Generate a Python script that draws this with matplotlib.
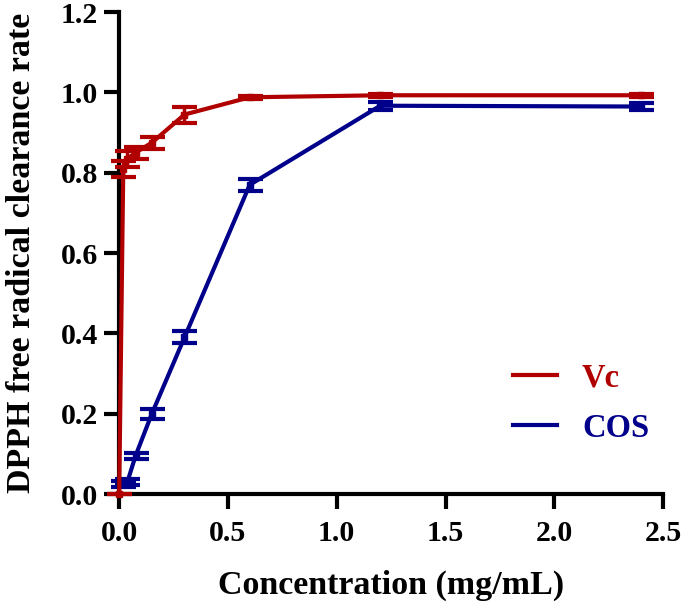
import numpy as np
import matplotlib.pyplot as plt
from matplotlib.lines import Line2D

# concentracao (mg/mL)
conc = [0, 0.01875, 0.0375, 0.075, 0.15, 0.3, 0.6, 1.2, 2.4]
conc_cos = [0.01875, 0.0375, 0.075, 0.15, 0.3, 0.6, 1.2, 2.4]

# taxa de remocao DPPH
vc = [0.0, 0.81, 0.835, 0.85, 0.875, 0.945, 0.988, 0.993, 0.993]
vc_err = [0.0, 0.02, 0.02, 0.015, 0.015, 0.02, 0.004, 0.004, 0.004]
cos = [0.025, 0.03, 0.095, 0.2, 0.39, 0.77, 0.967, 0.965]
cos_err = [0.008, 0.008, 0.008, 0.012, 0.015, 0.015, 0.01, 0.008]

red = '#B00000'
blue = '#00008B'

plt.rcParams['font.family'] = ['Liberation Serif', 'DejaVu Serif']
plt.rcParams['font.weight'] = 'bold'

fig = plt.figure(figsize=(6.85, 6.07), dpi=100)
ax = fig.add_axes([0.174, 0.186, 0.794, 0.794])

ax.errorbar(conc, vc, yerr=vc_err, color=red, lw=3, marker='s', ms=4,
            capsize=9, capthick=3, elinewidth=2.5, clip_on=False, zorder=3)
ax.errorbar(conc_cos, cos, yerr=cos_err, color=blue, lw=3, marker='s', ms=4,
            capsize=9, capthick=3, elinewidth=2.5, clip_on=False, zorder=2)

ax.set_xlim(0, 2.5)
ax.set_ylim(0, 1.2)
ax.set_xticks(np.arange(0, 2.51, 0.5))
ax.set_yticks(np.arange(0, 1.21, 0.2))
ax.xaxis.set_major_formatter(plt.FormatStrFormatter('%.1f'))
ax.yaxis.set_major_formatter(plt.FormatStrFormatter('%.1f'))

for s in ['top', 'right']:
    ax.spines[s].set_visible(False)
for s in ['left', 'bottom']:
    ax.spines[s].set_linewidth(3)
ax.tick_params(width=3, length=11, labelsize=21.5)
ax.tick_params(axis='x', pad=8)
ax.tick_params(axis='y', pad=4)
for t in ax.get_xticklabels() + ax.get_yticklabels():
    t.set_fontweight('bold')

ax.set_xlabel('Concentration (mg/mL)', fontsize=24.5, fontweight='bold', labelpad=16)
ax.set_ylabel('DPPH free radical clearance rate', fontsize=24.5, fontweight='bold', labelpad=17)

handles = [Line2D([], [], color=red, lw=3), Line2D([], [], color=blue, lw=3)]
ax.legend(handles, ['Vc', 'COS'], loc='center', bbox_to_anchor=(0.848, 0.336),
          bbox_transform=fig.transFigure, borderpad=0,
          frameon=False, fontsize=23.5, labelcolor=[red, blue],
          handlelength=1.35, labelspacing=0.6, handletextpad=0.77)

fig.savefig('out.png', dpi=100)
